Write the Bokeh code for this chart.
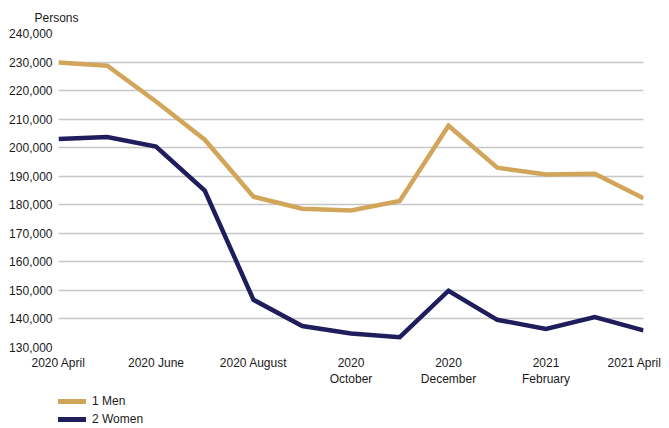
from bokeh.plotting import figure
from bokeh.layouts import column
from bokeh.models import Range1d, FixedTicker, NumeralTickFormatter, Legend, LegendItem
from bokeh.embed import file_html
from bokeh.resources import INLINE

months = ["2020 April", "2020 May", "2020 June", "2020 July", "2020 August",
          "2020 September", "2020 October", "2020 November", "2020 December",
          "2021 January", "2021 February", "2021 March", "2021 April"]
men = [229800, 228700, 216200, 202800, 182800, 178600, 178000, 181300,
       207700, 193000, 190600, 190900, 182300]
women = [203000, 203700, 200400, 185000, 146700, 137500, 134900, 133600,
         149900, 139700, 136500, 140700, 136000]
series_names = ["1 Men", "2 Women"]
tick_labels = {0: "2020 April", 2: "2020 June", 4: "2020 August",
               6: "2020\nOctober", 8: "2020\nDecember", 10: "2021\nFebruary",
               12: "2021 April"}
y_ticks = list(range(130000, 240001, 10000))

FONT = "Liberation Sans"
MEN_C = "#D2A65A"
WOMEN_C = "#1F1D5C"
x = list(range(len(months)))

p = figure(width=661, height=389, output_backend="svg", toolbar_location=None,
           x_range=Range1d(0, len(months) - 1), y_range=Range1d(130000, 240000),
           min_border_left=58, min_border_right=18, min_border_top=32,
           min_border_bottom=42)
p.outline_line_color = None
p.background_fill_color = "white"
p.border_fill_color = "white"

p.title.text = "Persons"
p.title.text_font = FONT
p.title.text_font_size = "12px"
p.title.text_font_style = "normal"
p.title.text_color = "#1a1a1a"
p.title.align = "left"
p.title.offset = -24
p.title.standoff = 17

# axes
p.xaxis.ticker = FixedTicker(ticks=list(tick_labels.keys()))
p.xaxis.major_label_overrides = tick_labels
p.yaxis.ticker = FixedTicker(ticks=y_ticks)
p.yaxis.formatter = NumeralTickFormatter(format="0,0")
for ax in (p.xaxis, p.yaxis):
    ax.axis_line_color = None
    ax.major_tick_line_color = None
    ax.minor_tick_line_color = None
    ax.major_tick_out = 0
    ax.major_tick_in = 0
    ax.major_label_text_font = FONT
    ax.major_label_text_font_size = "12px"
    ax.major_label_text_color = "#1a1a1a"
p.xaxis.major_label_standoff = 8
p.yaxis.major_label_standoff = 6

p.xgrid.grid_line_color = None
p.ygrid.ticker = FixedTicker(ticks=y_ticks)
p.ygrid.grid_line_color = "#c6c6c6"
p.ygrid.grid_line_width = 1.5

p.line(x, men, line_color=MEN_C, line_width=4.5, line_join="miter")
p.line(x, women, line_color=WOMEN_C, line_width=4.5, line_join="miter")

# legend strip below the chart
lg = figure(width=661, height=39, output_backend="svg", toolbar_location=None,
            x_range=Range1d(0, 1), y_range=Range1d(0, 1),
            x_axis_type=None, y_axis_type=None,
            min_border_left=0, min_border_right=0, min_border_top=0,
            min_border_bottom=0)
lg.outline_line_color = None
lg.xgrid.visible = False
lg.ygrid.visible = False
nan = float("nan")
d_men = lg.line([nan], [nan], line_color=MEN_C, line_width=5, line_cap="round")
d_women = lg.line([nan], [nan], line_color=WOMEN_C, line_width=5, line_cap="round")

legend = Legend(items=[LegendItem(label=series_names[0], renderers=[d_men]),
                       LegendItem(label=series_names[1], renderers=[d_women])],
                location=(0, 0), orientation="vertical")
legend.border_line_color = None
legend.background_fill_alpha = 0
legend.padding = 0
legend.margin = 0
legend.spacing = 0
legend.glyph_width = 28
legend.glyph_height = 18
legend.label_height = 18
legend.label_standoff = 6
legend.label_text_font = FONT
legend.label_text_font_size = "12px"
legend.label_text_color = "#1a1a1a"
lg.add_layout(legend, "center")

layout = column(p, lg, spacing=0)
open("out.html", "w").write(file_html(layout, INLINE))
